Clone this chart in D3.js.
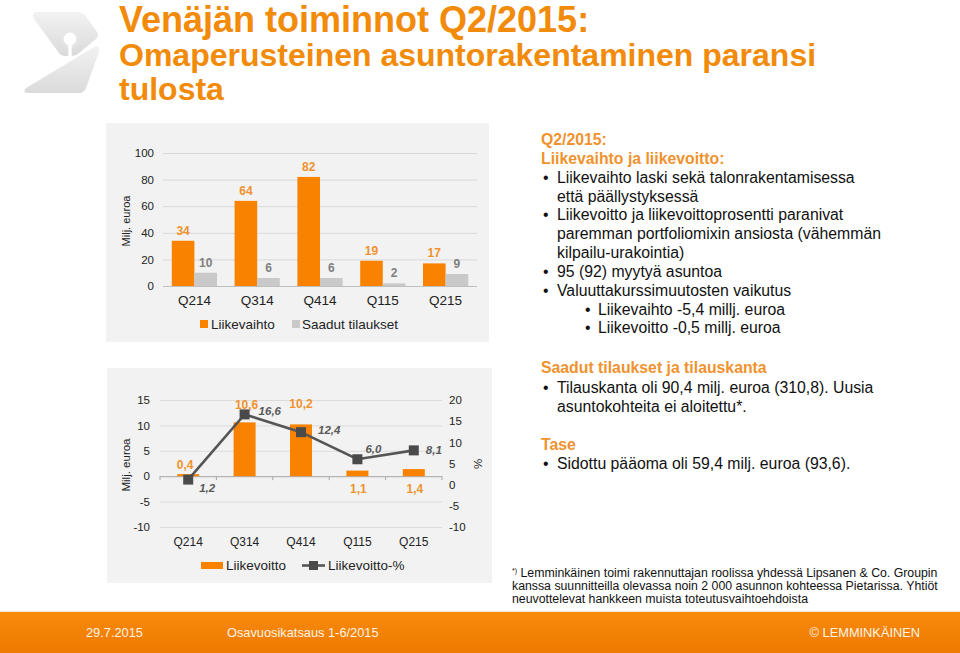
<!DOCTYPE html>
<html><head><meta charset="utf-8">
<script src="https://cdn.jsdelivr.net/npm/d3@7"></script>
<style>
body{margin:0;background:#fff}
svg{display:block;font-family:"Liberation Sans",Arial,sans-serif}
</style>
</head><body>
<svg id="c" width="960" height="653"></svg>
<script>
// ---------- data ----------
const categories = ["Q214", "Q314", "Q414", "Q115", "Q215"];
const liikevaihto = [34, 64, 82, 19, 17];
const saadutTilaukset = [10, 6, 6, 2, 9];
const chart1Ticks = [0, 20, 40, 60, 80, 100];
const liikevoitto = [0.4, 10.6, 10.2, 1.1, 1.4];
const liikevoittoPct = [1.2, 16.6, 12.4, 6.0, 8.1];
const chart2LeftTicks = [-10, -5, 0, 5, 10, 15];
const chart2RightTicks = [-10, -5, 0, 5, 10, 15, 20];

// ---------- style / layout constants ----------
const ORANGE = "#F98300", GRAYBAR = "#C9C9C9", LINEC = "#555555";
const TITLE_OR = "#F28A0A", HEAD_OR = "#F0922E";
const fmt = v => d3.format(".1f")(v).replace(".", ",");
const tickFmt = d => String(d);

const svg = d3.select("#c");

// ---------- logo ----------
const defs = svg.append("defs");
const lg = defs.append("linearGradient").attr("id", "lg").attr("x1", 0).attr("y1", 0).attr("x2", 0).attr("y2", 1);
lg.append("stop").attr("offset", 0).attr("stop-color", "#f2f2f2");
lg.append("stop").attr("offset", 1).attr("stop-color", "#dadada");
const logo = svg.append("g");
logo.append("path").attr("d", "M37,12 L78,12 Q82,12 85,15 L97,32 Q99,36 96,39 L79,53 Q76,56 72,56 L65,56 Q61,56 59,53 L34,19 Q31,12 37,12 Z").attr("fill", "url(#lg)");
logo.append("circle").attr("cx", 70).attr("cy", 39).attr("r", 8.5).attr("fill", "none").attr("stroke", "#e6e6e6").attr("stroke-width", 1.5);
logo.append("circle").attr("cx", 70).attr("cy", 39).attr("r", 6.5).attr("fill", "#fff");
logo.append("rect").attr("x", 68.3).attr("y", 39).attr("width", 3.4).attr("height", 19).attr("fill", "#fff");
logo.append("path").attr("d", "M96,46 Q100,47 99,52 L86,88 Q84,93 79,93 L28,93 Q22,93 26,88 Z").attr("fill", "url(#lg)");

// ---------- title ----------
svg.append("text").attr("x", 119).attr("y", 31.5).attr("fill", TITLE_OR).attr("font-weight", "bold").attr("font-size", 36).text("Venäjän toiminnot Q2/2015:");
svg.append("text").attr("x", 119).attr("y", 65.5).attr("fill", TITLE_OR).attr("font-weight", "bold").attr("font-size", 32).text("Omaperusteinen asuntorakentaminen paransi");
svg.append("text").attr("x", 119).attr("y", 100).attr("fill", TITLE_OR).attr("font-weight", "bold").attr("font-size", 32).text("tulosta");

// ---------- chart 1 ----------
svg.append("rect").attr("x", 106).attr("y", 123).attr("width", 383).attr("height", 219).attr("fill", "#f2f2f2");
const x1 = d3.scaleBand().domain(categories).range([163, 477]).paddingInner(0.28).paddingOuter(0.14);
const xs = d3.scaleBand().domain(["lv", "st"]).range([0, x1.bandwidth()]);
const y1 = d3.scaleLinear().domain([0, 100]).range([286, 153]);

const ax1 = svg.append("g").attr("transform", "translate(163,0)")
  .call(d3.axisLeft(y1).tickValues(chart1Ticks).tickFormat(tickFmt).tickSize(-314).tickPadding(9));
ax1.select(".domain").remove();
ax1.selectAll(".tick line").attr("stroke", d => d === 0 ? "#bfbfbf" : "#d9d9d9");
ax1.selectAll(".tick text").attr("font-size", 11.5).attr("fill", "#222").attr("font-family", "Liberation Sans, Arial, sans-serif");

svg.append("text").attr("transform", "translate(130,221) rotate(-90)").attr("text-anchor", "middle")
  .attr("font-size", 11).attr("fill", "#222").text("Milj. euroa");

const g1 = svg.append("g");
categories.forEach((c, i) => {
  const bx = x1(c);
  g1.append("rect").attr("x", bx + xs("lv")).attr("y", y1(liikevaihto[i])).attr("width", xs.bandwidth())
    .attr("height", y1(0) - y1(liikevaihto[i])).attr("fill", ORANGE);
  g1.append("rect").attr("x", bx + xs("st")).attr("y", y1(saadutTilaukset[i])).attr("width", xs.bandwidth())
    .attr("height", y1(0) - y1(saadutTilaukset[i])).attr("fill", GRAYBAR);
  g1.append("text").attr("x", bx + xs("lv") + xs.bandwidth() / 2).attr("y", y1(liikevaihto[i]) - 6)
    .attr("text-anchor", "middle").attr("font-size", 12).attr("font-weight", "bold").attr("fill", HEAD_OR).text(liikevaihto[i]);
  g1.append("text").attr("x", bx + xs("st") + xs.bandwidth() / 2).attr("y", y1(saadutTilaukset[i]) - 6)
    .attr("text-anchor", "middle").attr("font-size", 12).attr("font-weight", "bold").attr("fill", "#808080").text(saadutTilaukset[i]);
  g1.append("text").attr("x", bx + x1.bandwidth() / 2).attr("y", 304.5).attr("text-anchor", "middle")
    .attr("font-size", 13.5).attr("fill", "#222").text(c);
});
// legend 1
svg.append("rect").attr("x", 200).attr("y", 320).attr("width", 8).attr("height", 8).attr("fill", ORANGE);
svg.append("text").attr("x", 211).attr("y", 328.5).attr("font-size", 13.5).attr("fill", "#222").text("Liikevaihto");
svg.append("rect").attr("x", 292).attr("y", 320).attr("width", 8).attr("height", 8).attr("fill", GRAYBAR);
svg.append("text").attr("x", 302).attr("y", 328.5).attr("font-size", 13.5).attr("fill", "#222").text("Saadut tilaukset");

// ---------- chart 2 ----------
svg.append("rect").attr("x", 107).attr("y", 368).attr("width", 385).attr("height", 215).attr("fill", "#f2f2f2");
const x2 = d3.scaleBand().domain(categories).range([160, 442]).paddingInner(0.61).paddingOuter(0.305);
const yL = d3.scaleLinear().domain([-10, 15]).range([527, 400]);
const yR = d3.scaleLinear().domain([-10, 20]).range([527, 400]);

const ax2 = svg.append("g").attr("transform", "translate(160,0)")
  .call(d3.axisLeft(yL).tickValues(chart2LeftTicks).tickFormat(tickFmt).tickSize(-282).tickPadding(10));
ax2.select(".domain").remove();
ax2.selectAll(".tick line").attr("stroke", d => d === 0 ? "#a6a6a6" : "#dcdcdc");
ax2.selectAll(".tick text").attr("font-size", 11.5).attr("fill", "#222").attr("font-family", "Liberation Sans, Arial, sans-serif");

const ax2r = svg.append("g").attr("transform", "translate(442,0)")
  .call(d3.axisRight(yR).tickValues(chart2RightTicks).tickFormat(tickFmt).tickSize(0).tickPadding(7));
ax2r.select(".domain").remove();
ax2r.selectAll(".tick text").attr("font-size", 11.5).attr("fill", "#222").attr("font-family", "Liberation Sans, Arial, sans-serif");

// zero-axis tick marks between categories
const step2 = x2.step();
d3.range(categories.length + 1).forEach(i => {
  const tx = 160 + i * step2;
  svg.append("line").attr("x1", tx).attr("x2", tx).attr("y1", yL(0)).attr("y2", yL(0) + 4).attr("stroke", "#a6a6a6");
});

svg.append("text").attr("transform", "translate(130,465) rotate(-90)").attr("text-anchor", "middle")
  .attr("font-size", 11.5).attr("fill", "#222").text("Milj. euroa");
svg.append("text").attr("transform", "translate(482,464) rotate(-90)").attr("text-anchor", "middle")
  .attr("font-size", 11.5).attr("fill", "#222").text("%");

const g2 = svg.append("g");
const cx2 = c => x2(c) + x2.bandwidth() / 2;
categories.forEach((c, i) => {
  const v = liikevoitto[i];
  g2.append("rect").attr("x", x2(c)).attr("y", yL(Math.max(0, v))).attr("width", x2.bandwidth())
    .attr("height", Math.abs(yL(v) - yL(0))).attr("fill", ORANGE);
  g2.append("text").attr("x", cx2(c)).attr("y", 546).attr("text-anchor", "middle")
    .attr("font-size", 12).attr("fill", "#222").text(c);
});

// bar value label placement (manual, as on the slide)
const barLabelPlace = [{dx: -3, y: v => yL(v) - 5}, {dx: 2, y: () => yL(15) + 8.5}, {dx: 0, y: () => yL(15) + 8},
                       {dx: 1, y: () => yL(0) + 17}, {dx: 1, y: () => yL(0) + 17}];
categories.forEach((c, i) => {
  const p = barLabelPlace[i];
  g2.append("text").attr("x", cx2(c) + p.dx).attr("y", p.y(liikevoitto[i])).attr("text-anchor", "middle")
    .attr("font-size", 12).attr("font-weight", "bold").attr("fill", HEAD_OR).text(fmt(liikevoitto[i]));
});

const line = d3.line().x((d, i) => cx2(categories[i])).y(d => yR(d));
g2.append("path").datum(liikevoittoPct).attr("d", line).attr("fill", "none").attr("stroke", LINEC).attr("stroke-width", 2.6);
liikevoittoPct.forEach((v, i) => {
  g2.append("rect").attr("x", cx2(categories[i]) - 5).attr("y", yR(v) - 5).attr("width", 10).attr("height", 10).attr("fill", "#4a4a4a");
});
const pctLabelPlace = [{dx: 11, dy: 12}, {dx: 14, dy: 1}, {dx: 17, dy: 2}, {dx: 8, dy: -6}, {dx: 12, dy: 4}];
liikevoittoPct.forEach((v, i) => {
  const p = pctLabelPlace[i];
  g2.append("text").attr("x", cx2(categories[i]) + p.dx).attr("y", yR(v) + p.dy)
    .attr("font-size", 11.5).attr("font-weight", "bold").attr("font-style", "italic").attr("fill", "#595959").text(fmt(v));
});

// legend 2
svg.append("rect").attr("x", 201).attr("y", 562).attr("width", 22).attr("height", 7).attr("fill", ORANGE);
svg.append("text").attr("x", 226).attr("y", 570).attr("font-size", 13.5).attr("fill", "#222").text("Liikevoitto");
svg.append("line").attr("x1", 302).attr("x2", 325).attr("y1", 565.5).attr("y2", 565.5).attr("stroke", LINEC).attr("stroke-width", 2.6);
svg.append("rect").attr("x", 309).attr("y", 561).attr("width", 9).attr("height", 9).attr("fill", "#4a4a4a");
svg.append("text").attr("x", 328).attr("y", 570).attr("font-size", 13.5).attr("fill", "#222").text("Liikevoitto-%");

// ---------- right text ----------
const tx = svg.append("g").attr("font-size", 15.8).attr("fill", "#111");
const lines = [
  {t: "Q2/2015:", x: 541, y: 145, h: true},
  {t: "Liikevaihto ja liikevoitto:", x: 541, y: 164, h: true},
  {t: "Liikevaihto laski sekä talonrakentamisessa", x: 557, y: 182.5, b: 543},
  {t: "että päällystyksessä", x: 557, y: 201.5},
  {t: "Liikevoitto ja liikevoittoprosentti paranivat", x: 557, y: 220, b: 543},
  {t: "paremman portfoliomixin ansiosta (vähemmän", x: 557, y: 239},
  {t: "kilpailu-urakointia)", x: 557, y: 258},
  {t: "95 (92) myytyä asuntoa", x: 557, y: 277, b: 543},
  {t: "Valuuttakurssimuutosten vaikutus", x: 557, y: 295.5, b: 543},
  {t: "Liikevaihto -5,4 millj. euroa", x: 598, y: 314.5, b: 585},
  {t: "Liikevoitto -0,5 millj. euroa", x: 598, y: 333, b: 585},
  {t: "Saadut tilaukset ja tilauskanta", x: 541, y: 373, h: true},
  {t: "Tilauskanta oli 90,4 milj. euroa (310,8). Uusia", x: 557, y: 392.5, b: 543},
  {t: "asuntokohteita ei aloitettu*.", x: 557, y: 411.5},
  {t: "Tase", x: 541, y: 450, h: true},
  {t: "Sidottu pääoma oli 59,4 milj. euroa (93,6).", x: 557, y: 469, b: 543}
];
lines.forEach(l => {
  tx.append("text").attr("x", l.x).attr("y", l.y).attr("fill", l.h ? HEAD_OR : "#111")
    .attr("font-weight", l.h ? "bold" : "normal").text(l.t);
  if (l.b) tx.append("text").attr("x", l.b).attr("y", l.y).attr("fill", "#111").text("•");
});

// footnote
const fn = svg.append("g").attr("font-size", 12.3).attr("fill", "#111");
const f1 = fn.append("text").attr("x", 512).attr("y", 577);
f1.append("tspan").attr("font-size", 7).attr("dy", -4).text("*)");
f1.append("tspan").attr("dy", 4).text(" Lemminkäinen toimi rakennuttajan roolissa yhdessä Lipsanen & Co. Groupin");
fn.append("text").attr("x", 512).attr("y", 590).text("kanssa suunnitteilla olevassa noin 2 000 asunnon kohteessa Pietarissa. Yhtiöt");
fn.append("text").attr("x", 512).attr("y", 603).text("neuvottelevat hankkeen muista toteutusvaihtoehdoista");

// ---------- footer ----------
const fg = defs.append("linearGradient").attr("id", "fg").attr("x1", 0).attr("y1", 0).attr("x2", 0).attr("y2", 1);
fg.append("stop").attr("offset", 0).attr("stop-color", "#F98A0C");
fg.append("stop").attr("offset", 1).attr("stop-color", "#EC7A00");
svg.append("rect").attr("x", 0).attr("y", 612).attr("width", 960).attr("height", 41).attr("fill", "url(#fg)");
svg.append("line").attr("x1", 0).attr("x2", 960).attr("y1", 611.5).attr("y2", 611.5).attr("stroke", "#f6e6d6");
const ft = svg.append("g").attr("font-size", 12.8).attr("fill", "#fff3e6");
ft.append("text").attr("x", 86).attr("y", 637).text("29.7.2015");
ft.append("text").attr("x", 227).attr("y", 637).text("Osavuosikatsaus 1-6/2015");
ft.append("text").attr("x", 920).attr("y", 637).attr("text-anchor", "end").text("© LEMMINKÄINEN");
</script>
</body></html>
